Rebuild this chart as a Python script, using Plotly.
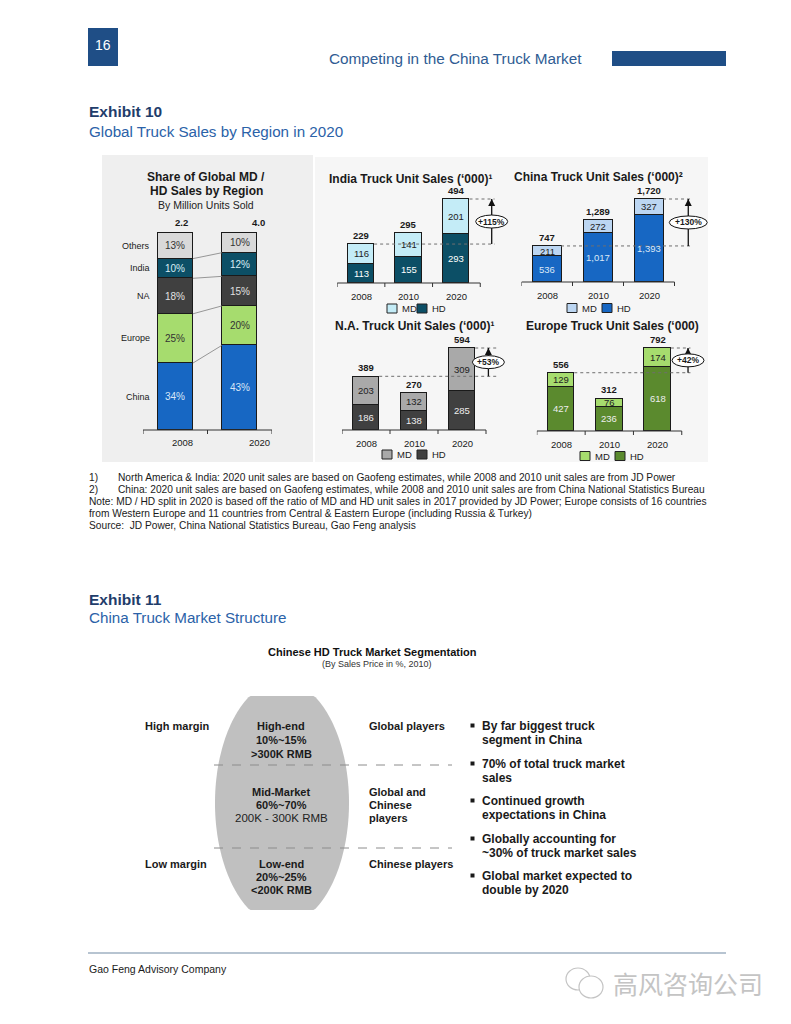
import numpy as np
import plotly.graph_objects as go

W, H = 791, 1024
OFF = 8                      # default page margin of the html body
FW, FH = W - 2 * OFF, H - 2 * OFF


def X(x):
    return (x - OFF) / FW


def Y(y):
    return 1 - (y - OFF) / FH


# ---------------- data ----------------
share_years = ["2008", "2020"]
share_regions = ["China", "Europe", "NA", "India", "Others"]
share_2008 = [34, 25, 18, 10, 13]
share_2020 = [43, 20, 15, 12, 10]
share_totals = ["2.2", "4.0"]

years = ["2008", "2010", "2020"]
india_md = [116, 141, 201]
india_hd = [113, 155, 293]
india_total = [229, 295, 494]
china_md = [211, 272, 327]
china_hd = [536, 1017, 1393]
china_total = [747, 1289, 1720]
na_md = [203, 132, 309]
na_hd = [186, 138, 285]
na_total = [389, 270, 594]
europe_md = [129, 76, 174]
europe_hd = [427, 236, 618]
europe_total = [556, 312, 792]
growth_labels = ["+115%", "+130%", "+53%", "+42%"]

seg_names = ["High-end", "Mid-Market", "Low-end"]
seg_shares = ["10%~15%", "60%~70%", "20%~25%"]
seg_prices = [">300K RMB", "200K - 300K RMB", "<200K RMB"]
margin_labels = ["High margin", "", "Low margin"]
players = [["Global players"], ["Global and", "Chinese", "players"], ["Chinese players"]]
bullets = [
    ("By far biggest truck", "segment in China"),
    ("70% of total truck market", "sales"),
    ("Continued growth", "expectations in China"),
    ("Globally accounting for", "~30% of truck market sales"),
    ("Global market expected to", "double by 2020"),
]
notes_numbered = [
    ("1)", "North America & India: 2020 unit sales are based on Gaofeng estimates, while 2008 and 2010 unit sales are from JD Power"),
    ("2)", "China: 2020 unit sales are based on Gaofeng estimates, while 2008 and 2010 unit sales are from China National Statistics Bureau"),
]
notes_plain = [
    "Note: MD / HD split in 2020 is based off the ratio of MD and HD unit sales in 2017 provided by JD Power; Europe consists of 16 countries",
    "from Western Europe and 11 countries from Central & Eastern Europe (including Russia & Turkey)",
    "Source:  JD Power, China National Statistics Bureau, Gao Feng analysis",
]

# ---------------- styles ----------------
SANS = "Liberation Sans, Arial, sans-serif"
CJK = "Noto Sans CJK SC, sans-serif"
INK = "#1a1a1a"
NAVY = "#1f4e86"
DARK_NAVY = "#1f3d6b"
MID_BLUE = "#2b62a8"
HEAD_BLUE = "#2f5c93"

share_colors = ["#1767c3", "#a6dc6e", "#404040", "#0c4f66", "#d9d9d9"]
share_txt = ["#d8e6f7", "#333333", "#e0e0e0", "#d8eef5", "#333333"]

annotations, shapes, traces = [], [], []
axes = {}


def ref(i):
    return ("x", "y") if i == 1 else (f"x{i}", f"y{i}")


def setup_axes(i, c0, ux, xr, base, uy, yr):
    xa = "xaxis" if i == 1 else f"xaxis{i}"
    ya = "yaxis" if i == 1 else f"yaxis{i}"
    xn, yn = ref(i)
    axes[xa] = dict(domain=[X(c0 + xr[0] * ux), X(c0 + xr[1] * ux)], range=list(xr),
                    visible=False, anchor=yn, fixedrange=True)
    axes[ya] = dict(domain=[Y(base - yr[0] * uy), Y(base - yr[1] * uy)], range=list(yr),
                    visible=False, anchor=xn, fixedrange=True)


def ptext(x, y, s, size, color=INK, family=SANS, xanchor="center", yanchor="middle"):
    annotations.append(dict(xref="paper", yref="paper", x=X(x), y=Y(y), text=s, showarrow=False,
                            font=dict(family=family, size=size, color=color),
                            xanchor=xanchor, yanchor=yanchor, borderpad=0))


def dtext(i, x, y, s, size, color=INK, xanchor="center", yanchor="middle", xshift=0, yshift=0):
    xn, yn = ref(i)
    annotations.append(dict(xref=xn, yref=yn, x=x, y=y, text=s, showarrow=False,
                            font=dict(family=SANS, size=size, color=color),
                            xanchor=xanchor, yanchor=yanchor, xshift=xshift, yshift=yshift, borderpad=0))


def prect(x0, y0, x1, y1, fill, lw=0, lc="#000", layer="below"):
    shapes.append(dict(type="rect", xref="paper", yref="paper", x0=X(x0), x1=X(x1),
                       y0=Y(y1), y1=Y(y0), fillcolor=fill,
                       line=dict(width=lw, color=lc), layer=layer))


def pline(x0, y0, x1, y1, color, width=1, dash="solid"):
    shapes.append(dict(type="line", xref="paper", yref="paper", x0=X(x0), x1=X(x1),
                       y0=Y(y0), y1=Y(y1), line=dict(color=color, width=width, dash=dash),
                       layer="above"))


def baseline(i, n):
    xn, yn = ref(i)
    shapes.append(dict(type="line", xref=xn, yref=yn, x0=-0.5, x1=n - 0.5, y0=0, y1=0,
                       line=dict(color="#333333", width=1), layer="above"))
    for k in range(n + 1):
        shapes.append(dict(type="line", xref=xn, yref=yn, x0=k - 0.5, x1=k - 0.5,
                           ysizemode="pixel", yanchor=0, y0=0, y1=-4,
                           line=dict(color="#333333", width=1), layer="above"))


# ---------------- page header ----------------
prect(88, 28, 118, 66, NAVY)
ptext(103, 45, "16", 14, "white")
ptext(455, 58, "Competing in the China Truck Market", 15.3, HEAD_BLUE)
prect(612, 51, 726, 66, NAVY)
ptext(88, 112, "<b>Exhibit 10</b>", 15.5, DARK_NAVY, xanchor="left")
ptext(88, 131, "Global Truck Sales by Region in 2020", 15.2, MID_BLUE, xanchor="left")

# panels
prect(102, 155, 313, 462, "#efefef")
prect(315, 157, 708, 462, "#f6f6f6")

# ---------------- share chart ----------------
BW = 0.55
setup_axes(1, 175.25, 64.5, (-0.5, 1.5), 430, 1.97, (-3, 101))
for k, reg in enumerate(share_regions):
    traces.append(go.Bar(x=[0, 1], y=[share_2008[k], share_2020[k]], width=BW,
                         marker=dict(color=share_colors[k], line=dict(color="#1a1a1a", width=1)),
                         xaxis="x", yaxis="y", showlegend=False, hoverinfo="skip"))
cum08 = np.cumsum(share_2008)
cum20 = np.cumsum(share_2020)
for k, reg in enumerate(share_regions):
    m08 = cum08[k] - share_2008[k] / 2
    m20 = cum20[k] - share_2020[k] / 2
    dtext(1, 0, m08, f"{share_2008[k]}%", 10, share_txt[k])
    dtext(1, 1, m20, f"{share_2020[k]}%", 10, share_txt[k])
    dtext(1, -BW / 2, m08, reg, 9, INK, xanchor="right", xshift=-7)
for k in range(len(share_regions) - 1):
    shapes.append(dict(type="line", xref="x", yref="y", x0=BW / 2, x1=1 - BW / 2,
                       y0=cum08[k], y1=cum20[k], line=dict(color="#7f7f7f", width=0.8), layer="above"))
baseline(1, 2)
for k, t in enumerate(share_totals):
    dtext(1, k, 100, f"<b>{t}</b>", 9.5, INK, yanchor="bottom", yshift=4, xshift=[6, 19][k])
    dtext(1, k, 0, share_years[k], 9.5, INK, yanchor="top", yshift=-6, xshift=[7, 20][k])
ptext(206, 177, "<b>Share of Global MD /</b>", 12)
ptext(206, 191, "<b>HD Sales by Region</b>", 12)
ptext(206, 205, "By Million Units Sold", 10.5, "#222222")

# ---------------- unit sales charts ----------------
Q = "(\u2018000)"
charts = [
    dict(i=2, md=india_md, hd=india_hd, tot=india_total, c0=361, ux=47.7, xmax=3.1, base=283, top=199,
         title=f"<b>India Truck Unit Sales {Q}\u00b9</b>", tx=410, ty=179,
         mdc="#c4ecf7", hdc="#0c4f66", mdt="#222222", hdt="#ffffff",
         ax=2.74, lend=2.8, ehw=16, leg=(387, 417, 308.5), g=growth_labels[0]),
    dict(i=3, md=china_md, hd=china_hd, tot=china_total, c0=547, ux=51, xmax=3.2, base=282, top=199,
         title=f"<b>China Truck Unit Sales {Q}\u00b2</b>", tx=598, ty=177,
         mdc="#bcd6f2", hdc="#1767c3", mdt="#222222", hdt="#dbe8f7",
         ax=2.77, lend=2.82, ehw=19, leg=(567, 602, 308), g=growth_labels[1]),
    dict(i=4, md=na_md, hd=na_hd, tot=na_total, c0=366, ux=48, xmax=3.05, base=430, top=348,
         title=f"<b>N.A. Truck Unit Sales {Q}\u00b9</b>", tx=414, ty=326,
         mdc="#a9a9a9", hdc="#404040", mdt="#222222", hdt="#eeeeee",
         ax=2.55, lend=2.75, ehw=16, leg=(382, 417, 454.5), g=growth_labels[2]),
    dict(i=5, md=europe_md, hd=europe_hd, tot=europe_total, c0=561, ux=48.3, xmax=3.02, base=431, top=348,
         title=f"<b>Europe Truck Unit Sales {Q}</b>", tx=612, ty=326,
         mdc="#a6dc6e", hdc="#5b8a2e", mdt="#222222", hdt="#eeeeee",
         ax=2.63, lend=2.68, ehw=16, leg=(580, 615, 456), g=growth_labels[3]),
]

for c in charts:
    i = c["i"]
    md, hd, tot = c["md"], c["hd"], c["tot"]
    top_val = md[2] + hd[2]
    uy = (c["base"] - c["top"]) / top_val
    setup_axes(i, c["c0"], c["ux"], (-0.5, c["xmax"]), c["base"], uy, (-7 / uy, top_val * 1.04))
    xn, yn = ref(i)
    xs = list(range(len(years)))
    traces.append(go.Bar(x=xs, y=hd, width=BW, marker=dict(color=c["hdc"], line=dict(color="#1a1a1a", width=1)),
                         xaxis=xn, yaxis=yn, showlegend=False, hoverinfo="skip"))
    traces.append(go.Bar(x=xs, y=md, width=BW, marker=dict(color=c["mdc"], line=dict(color="#1a1a1a", width=1)),
                         xaxis=xn, yaxis=yn, showlegend=False, hoverinfo="skip"))
    for k in xs:
        top_k = md[k] + hd[k]
        dtext(i, k, hd[k] / 2, f"{hd[k]:,}", 9.5, c["hdt"])
        dtext(i, k, hd[k] + md[k] / 2, f"{md[k]:,}", 9.5, c["mdt"])
        dtext(i, k, top_k, f"<b>{tot[k]:,}</b>", 9.5, INK, yanchor="bottom", yshift=2)
        dtext(i, k, 0, years[k], 9.5, INK, yanchor="top", yshift=-7)
    baseline(i, len(years))
    lo, hi = md[0] + hd[0], md[2] + hd[2]
    # dashed reference lines
    for k, v in ((0, lo), (2, hi)):
        shapes.append(dict(type="line", xref=xn, yref=yn, x0=k + BW / 2, x1=c["lend"], y0=v, y1=v,
                           line=dict(color="#6f6f6f", width=1, dash="dot"), layer="above"))
    # arrow shaft, arrow head, ellipse
    shapes.append(dict(type="line", xref=xn, yref=yn, x0=c["ax"], x1=c["ax"], y0=lo, y1=hi,
                       line=dict(color="#111111", width=1.3), layer="above"))
    shapes.append(dict(type="path", xref=xn, yref=yn, xsizemode="pixel", ysizemode="pixel",
                       xanchor=c["ax"], yanchor=hi, path="M -3.5,-7 L 0,0 L 3.5,-7 Z",
                       fillcolor="#111111", line=dict(width=0), layer="above"))
    mid = (lo + hi) / 2
    shapes.append(dict(type="circle", xref=xn, yref=yn, xsizemode="pixel", ysizemode="pixel",
                       xanchor=c["ax"], yanchor=mid, x0=-c["ehw"], x1=c["ehw"], y0=-6.5, y1=6.5,
                       fillcolor="white", line=dict(color="#111111", width=1), layer="above"))
    dtext(i, c["ax"], mid, f"<b>{c['g']}</b>", 8.5, INK)
    ptext(c["tx"], c["ty"], c["title"], 12)
    # legend
    mx, hx, ly = c["leg"]
    prect(mx, ly - 4.5, mx + 10, ly + 4.5, c["mdc"], 1, "#222222", layer="above")
    prect(hx, ly - 4.5, hx + 10, ly + 4.5, c["hdc"], 1, "#222222", layer="above")
    ptext(mx + 14, ly, "MD", 9.5, INK, xanchor="left")
    ptext(hx + 14, ly, "HD", 9.5, INK, xanchor="left")

# ---------------- notes ----------------
ny = 477
for num, txt in notes_numbered:
    ptext(88, ny, num, 10.2, INK, xanchor="left")
    ptext(117, ny, txt, 10.2, INK, xanchor="left")
    ny += 12
for txt in notes_plain:
    ptext(88, ny, txt, 10.2, INK, xanchor="left")
    ny += 12

# ---------------- exhibit 11 ----------------
ptext(88, 599, "<b>Exhibit 11</b>", 15.5, DARK_NAVY, xanchor="left")
ptext(88, 617, "China Truck Market Structure", 15.2, MID_BLUE, xanchor="left")
ptext(372, 652, "<b>Chinese HD Truck Market Segmentation</b>", 11, "#111111")
ptext(377, 664, "(By Sales Price in %, 2010)", 9, "#333333")

# clipped ellipse
th = np.linspace(0, 2 * np.pi, 181)
ex = 282 + 67 * np.cos(th)
ey = np.clip(803 + 122 * np.sin(th), 696, 910)
path = "M " + " L ".join(f"{X(x):.5f},{Y(y):.5f}" for x, y in zip(ex, ey)) + " Z"
shapes.append(dict(type="path", xref="paper", yref="paper", path=path, fillcolor="#c0c0c0",
                   line=dict(width=0), layer="below"))
pline(214, 765, 452, 765, "#8c8c8c", 1, "dash")
pline(214, 848, 452, 848, "#8c8c8c", 1, "dash")

row_y = [[726, 740, 754], [792, 805, 818], [864, 877, 890]]
for r in range(3):
    y0, y1, y2 = row_y[r]
    if margin_labels[r]:
        ptext(144, y0, f"<b>{margin_labels[r]}</b>", 11, INK, xanchor="left")
    ptext(281, y0, f"<b>{seg_names[r]}</b>", 11, INK)
    ptext(281, y1, f"<b>{seg_shares[r]}</b>", 11, INK)
    if r == 1:
        ptext(281, y2, seg_prices[r], 11.5, "#222222")
    else:
        ptext(281, y2, f"<b>{seg_prices[r]}</b>", 11, INK)
    for j, line in enumerate(players[r]):
        ptext(368, row_y[r][j], f"<b>{line}</b>", 11, INK, xanchor="left")

by = [726, 764, 801, 839, 876]
for b, (l1, l2) in zip(by, bullets):
    prect(470.5, b - 2.5, 474.5, b + 1.5, INK, layer="above")
    ptext(481, b, f"<b>{l1}</b>", 12, INK, xanchor="left")
    ptext(481, b + 14, f"<b>{l2}</b>", 12, INK, xanchor="left")

# ---------------- footer ----------------
pline(88, 953, 726, 953, "#9fb0c2", 1.5)
ptext(88, 969, "Gao Feng Advisory Company", 10.5, INK, xanchor="left")
# wechat-like icon
shapes.append(dict(type="circle", xref="paper", yref="paper", x0=X(566), x1=X(590), y0=Y(990), y1=Y(968),
                   fillcolor="white", line=dict(color="#c4c4c4", width=1.2), layer="above"))
shapes.append(dict(type="circle", xref="paper", yref="paper", x0=X(579), x1=X(603), y0=Y(998), y1=Y(976),
                   fillcolor="white", line=dict(color="#c4c4c4", width=1.2), layer="above"))
ptext(688, 983, "高风咨询公司", 25, "#c4c4c4", CJK)

fig = go.Figure(data=traces)
fig.update_layout(
    width=FW, height=FH, margin=dict(l=0, r=0, t=0, b=0),
    paper_bgcolor="white", plot_bgcolor="rgba(0,0,0,0)",
    barmode="stack", bargap=0, showlegend=False,
    annotations=annotations, shapes=shapes, **axes,
)
fig.write_html("out.html", config={"displayModeBar": False})
